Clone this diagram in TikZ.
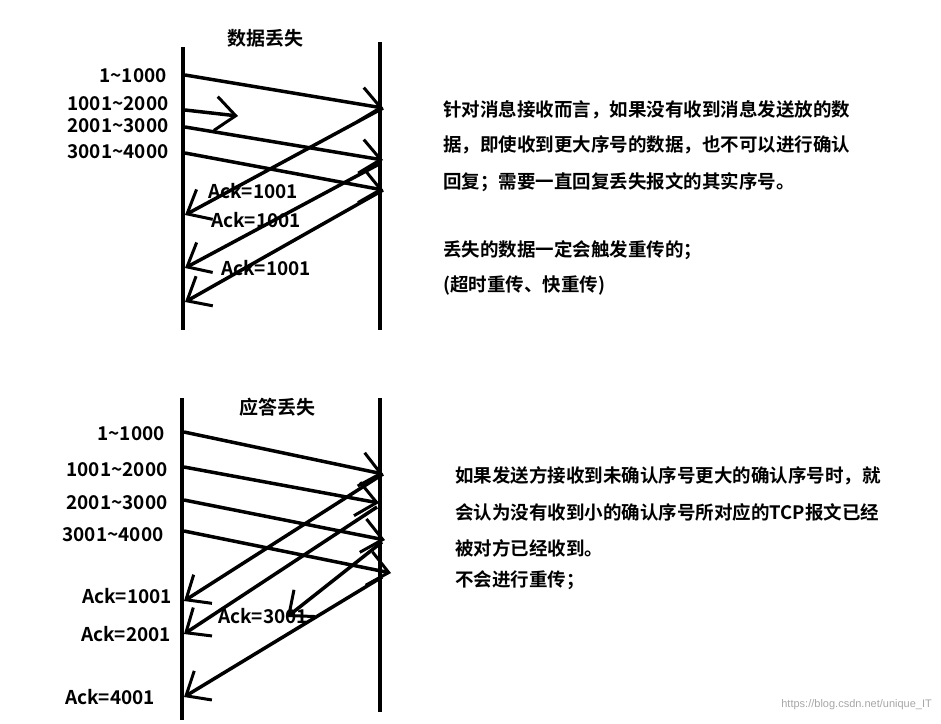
\documentclass[tikz,border=0pt]{standalone}
\usepackage{fontspec}
\setmainfont{Noto Sans CJK SC}[BoldFont=Noto Sans CJK SC Bold]
\newfontfamily\wm{Liberation Sans}
\usetikzlibrary{arrows.meta}
\begin{document}
\begin{tikzpicture}[x=1pt,y=-1pt,
  life/.style={line width=4pt},
  msg/.style={line width=3.5pt,-{Straight Barb[length=20pt,width=34pt,line width=3pt]}},
  lbl/.style={font=\bfseries\fontsize{19}{21}\selectfont,inner sep=0pt},
  txt/.style={font=\bfseries\fontsize{18.5}{20}\selectfont,anchor=west,inner sep=0pt}]
\useasboundingbox (0,0) rectangle (941,723);
% top
\draw[life] (183,47) -- (183,330);
\draw[life] (380,42) -- (380,330);
\node[lbl] (t1) at (265,38) {数据丢失};
\node[lbl] (d1) at (133,76) {1\textasciitilde1000};
\node[lbl] (d2) at (118,104) {1001\textasciitilde2000};
\node[lbl] (d3) at (118,126) {2001\textasciitilde3000};
\node[lbl] (d4) at (118,152) {3001\textasciitilde4000};
\coordinate (s1) at (185,75); \coordinate (e1) at (383,108);
\coordinate (s2) at (185,110); \coordinate (e2) at (238,116);
\coordinate (s3) at (185,127); \coordinate (e3) at (383,160);
\coordinate (s4) at (185,153); \coordinate (e4) at (383,190);
\draw[msg] (s1) -- (e1);
\draw[msg] (s2) -- (e2);
\draw[msg] (s3) -- (e3);
\draw[msg] (s4) -- (e4);
\coordinate (a1) at (185,215); \coordinate (a2) at (185,268); \coordinate (a3) at (185,302);
\coordinate (b2) at (381,163);
\draw[msg] (e1) -- (a1);
\draw[msg] (b2) -- (a2);
\draw[msg] (e4) -- (a3);
\node[lbl] (k1) at (253,191) {Ack=1001};
\node[lbl] (k2) at (256,220) {Ack=1001};
\node[lbl] (k3) at (266,268) {Ack=1001};
\node[txt] (p1) at (443,110) {针对消息接收而言，如果没有收到消息发送放的数};
\node[txt] (p2) at (443,145) {据，即使收到更大序号的数据，也不可以进行确认};
\node[txt] (p3) at (443,182) {回复；需要一直回复丢失报文的其实序号。};
\node[txt] (p4) at (443,250) {丢失的数据一定会触发重传的；};
\node[txt] (p5) at (443,285) {(超时重传、快重传)};
% bottom
\draw[life] (182,398) -- (182,720);
\draw[life] (380,398) -- (380,712);
\node[lbl] (t2) at (277,407) {应答丢失};
\node[lbl] (f1) at (131,434) {1\textasciitilde1000};
\node[lbl] (f2) at (117,470) {1001\textasciitilde2000};
\node[lbl] (f3) at (117,503) {2001\textasciitilde3000};
\node[lbl] (f4) at (113,535) {3001\textasciitilde4000};
\coordinate (u1) at (184,432); \coordinate (v1) at (383,474);
\coordinate (u2) at (184,467); \coordinate (v2) at (379,503);
\coordinate (u3) at (184,500); \coordinate (v3) at (385,540);
\coordinate (u4) at (184,531); \coordinate (v4) at (391,573);
\draw[msg] (u1) -- (v1);
\draw[msg] (u2) -- (v2);
\draw[msg] (u3) -- (v3);
\draw[msg] (u4) -- (v4);
\coordinate (w1) at (184,601); \coordinate (w2) at (184,634);
\coordinate (w3) at (287,617); \coordinate (w4) at (184,697);
\coordinate (x2) at (377,507); \coordinate (x3) at (382,542); \coordinate (x4) at (382,577);
\draw[msg] (v1) -- (w1);
\draw[msg] (x2) -- (w2);
\draw[msg] (x3) -- (w3);
\draw[msg] (x4) -- (w4);
\node[lbl] (g1) at (127,596) {Ack=1001};
\node[lbl] (g2) at (126,634) {Ack=2001};
\node[lbl] (g3) at (263,616) {Ack=3001};
\node[lbl] (g4) at (110,697) {Ack=4001};
\node[txt] (q1) at (455,476) {如果发送方接收到未确认序号更大的确认序号时，就};
\node[txt] (q2) at (455,512) {会认为没有收到小的确认序号所对应的TCP报文已经};
\node[txt] (q3) at (455,548) {被对方已经收到。};
\node[txt] (q4) at (455,580) {不会进行重传；};
\node[font=\wm\fontsize{11}{13}\selectfont,text=black!35,anchor=east,inner sep=0pt] (wmk) at (932,705) {https://blog.csdn.net/unique\_IT};
\end{tikzpicture}
\end{document}
